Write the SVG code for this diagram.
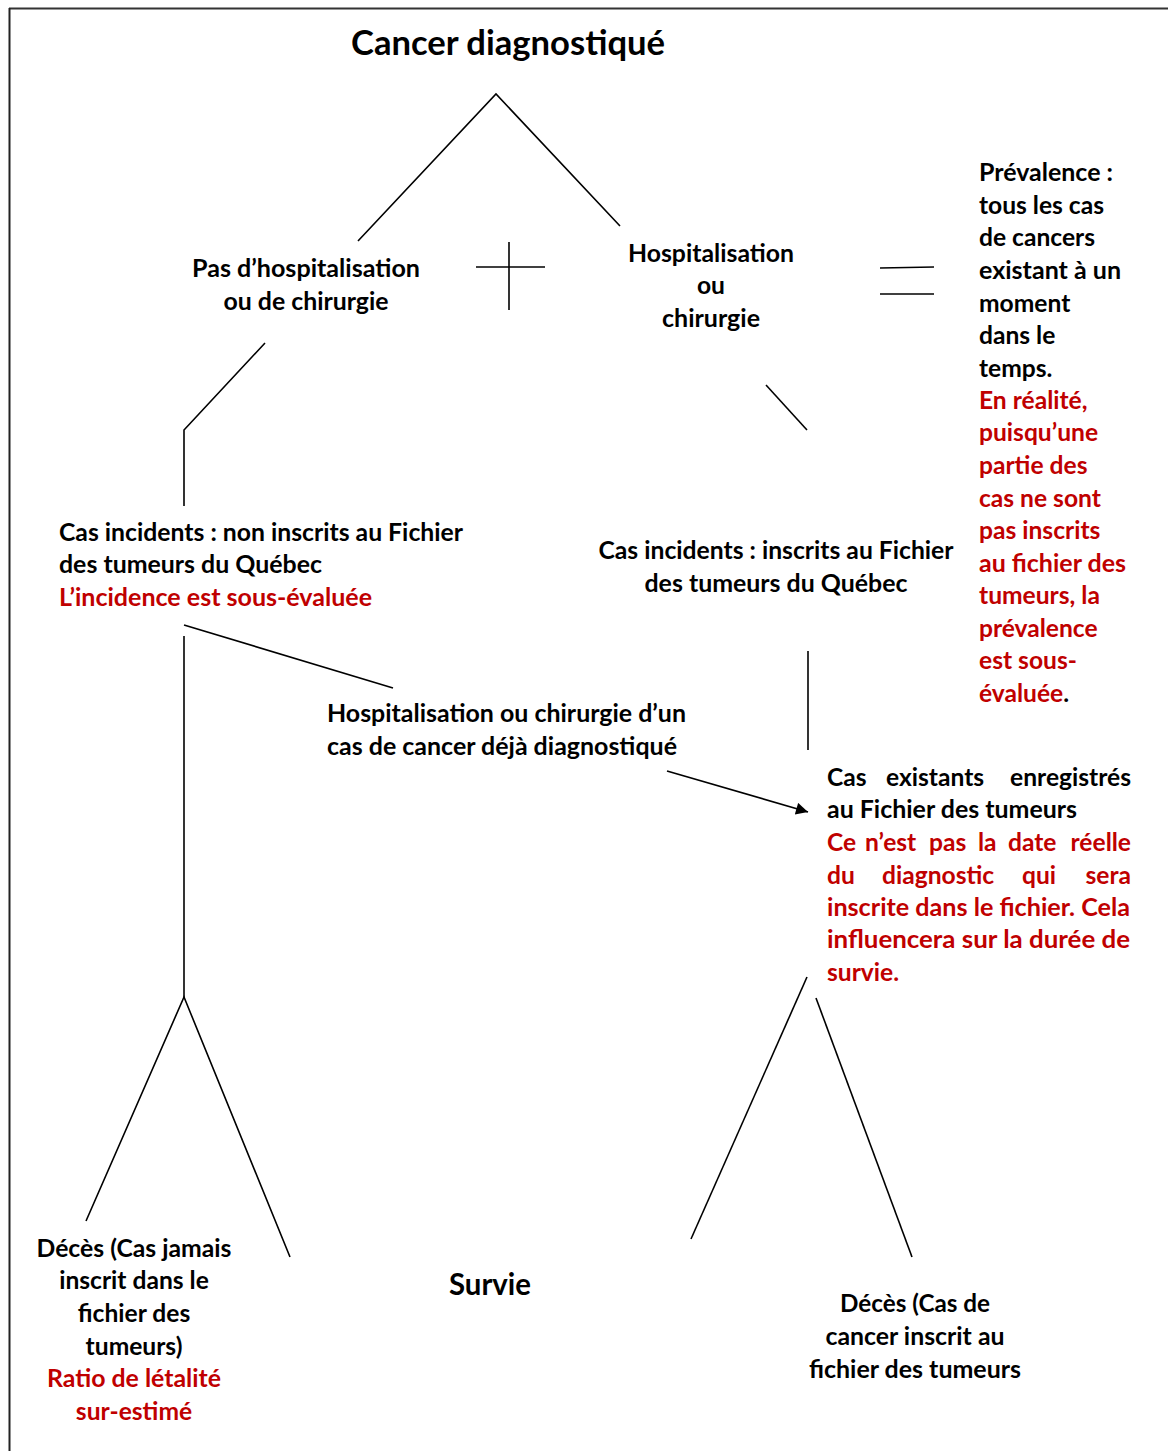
<svg xmlns="http://www.w3.org/2000/svg" width="1168" height="1451" viewBox="0 0 1168 1451">
<style>
  text { font-family: Lato, "Open Sans", "Liberation Sans", sans-serif; font-weight: bold; font-size: 24.6px; fill: #000; }
  .red { fill: #C00000; }
  .mid { text-anchor: middle; }
  .ln { stroke: #000; stroke-width: 1.6; fill: none; }
</style>
<defs>
  <marker id="arr" viewBox="0 0 10 10" refX="10" refY="5" markerWidth="14" markerHeight="12" markerUnits="userSpaceOnUse" orient="auto">
    <path d="M0,0 L10,5 L0,10 z" fill="#000"/>
  </marker>
</defs>
<rect width="1168" height="1451" fill="#fff"/>
<g id="frame">
  <line x1="9" y1="8.5" x2="1168" y2="8.5" stroke="#333" stroke-width="2.2"/>
  <line x1="9.5" y1="8" x2="9.5" y2="1451" stroke="#222" stroke-width="2"/>
</g>
<g id="connectors">
  <polyline class="ln" points="358,241 496,94 620,226"/>
  <line class="ln" x1="476" y1="267" x2="545" y2="267"/>
  <line class="ln" x1="509" y1="242" x2="509" y2="310"/>
  <line class="ln" x1="880" y1="268" x2="934" y2="267"/>
  <line class="ln" x1="880" y1="294" x2="934" y2="294"/>
  <polyline class="ln" points="265,343 184,430 184,506"/>
  <line class="ln" x1="766" y1="385" x2="807" y2="430"/>
  <line class="ln" x1="184" y1="625" x2="393" y2="688"/>
  <line class="ln" x1="184" y1="636" x2="184" y2="997"/>
  <line class="ln" x1="808" y1="651" x2="808" y2="750"/>
  <line class="ln" x1="667" y1="771" x2="808" y2="812" marker-end="url(#arr)"/>
  <polyline class="ln" points="86,1221 184,997 290,1257"/>
  <line class="ln" x1="807" y1="977" x2="691" y2="1239"/>
  <line class="ln" x1="816" y1="998" x2="912" y2="1257"/>
</g>
<g id="title">
  <text class="mid" x="508" y="55" style="font-size:34.5px" textLength="314" lengthAdjust="spacingAndGlyphs">Cancer diagnostiqué</text>
</g>
<g id="pas-hosp">
  <text class="mid" x="306" y="277" textLength="228" lengthAdjust="spacingAndGlyphs">Pas d’hospitalisation</text>
  <text class="mid" x="306" y="310" textLength="165" lengthAdjust="spacingAndGlyphs">ou de chirurgie</text>
</g>
<g id="hosp">
  <text class="mid" x="711" y="262" textLength="166" lengthAdjust="spacingAndGlyphs">Hospitalisation</text>
  <text class="mid" x="711" y="294">ou</text>
  <text class="mid" x="711" y="327" textLength="98" lengthAdjust="spacingAndGlyphs">chirurgie</text>
</g>
<g id="prevalence">
  <text x="979" y="181" textLength="134" lengthAdjust="spacingAndGlyphs">Prévalence :</text>
  <text x="979" y="214">tous les cas</text>
  <text x="979" y="246">de cancers</text>
  <text x="979" y="279" textLength="142" lengthAdjust="spacingAndGlyphs">existant à un</text>
  <text x="979" y="312">moment</text>
  <text x="979" y="344">dans le</text>
  <text x="979" y="377">temps.</text>
  <text class="red" x="979" y="409">En réalité,</text>
  <text class="red" x="979" y="441">puisqu’une</text>
  <text class="red" x="979" y="474">partie des</text>
  <text class="red" x="979" y="507">cas ne sont</text>
  <text class="red" x="979" y="539">pas inscrits</text>
  <text class="red" x="979" y="572" textLength="147" lengthAdjust="spacingAndGlyphs">au fichier des</text>
  <text class="red" x="979" y="604">tumeurs, la</text>
  <text class="red" x="979" y="637">prévalence</text>
  <text class="red" x="979" y="669">est sous-</text>
  <text x="979" y="702"><tspan class="red">évaluée</tspan>.</text>
</g>
<g id="incidents-non">
  <text x="59" y="541" textLength="404" lengthAdjust="spacingAndGlyphs">Cas incidents : non inscrits au Fichier</text>
  <text x="59" y="573" textLength="263" lengthAdjust="spacingAndGlyphs">des tumeurs du Québec</text>
  <text class="red" x="59" y="606" textLength="313" lengthAdjust="spacingAndGlyphs">L’incidence est sous-évaluée</text>
</g>
<g id="incidents-inscrits">
  <text class="mid" x="776" y="559" textLength="355" lengthAdjust="spacingAndGlyphs">Cas incidents : inscrits au Fichier</text>
  <text class="mid" x="776" y="592" textLength="263" lengthAdjust="spacingAndGlyphs">des tumeurs du Québec</text>
</g>
<g id="hosp-deja">
  <text x="327" y="722" textLength="359" lengthAdjust="spacingAndGlyphs">Hospitalisation ou chirurgie d’un</text>
  <text x="327" y="755" textLength="350" lengthAdjust="spacingAndGlyphs">cas de cancer déjà diagnostiqué</text>
</g>
<g id="existants">
  <text y="786"><tspan x="827">Cas</tspan><tspan x="886">existants</tspan><tspan x="1131" text-anchor="end">enregistrés</tspan></text>
  <text x="827" y="818" textLength="250" lengthAdjust="spacingAndGlyphs">au Fichier des tumeurs</text>
  <text class="red" y="851"><tspan x="827">Ce</tspan><tspan x="865">n’est</tspan><tspan x="929">pas</tspan><tspan x="978">la</tspan><tspan x="1008">date</tspan><tspan x="1131" text-anchor="end">réelle</tspan></text>
  <text class="red" y="884"><tspan x="827">du</tspan><tspan x="882">diagnostic</tspan><tspan x="1022">qui</tspan><tspan x="1131" text-anchor="end">sera</tspan></text>
  <text class="red" x="827" y="916" textLength="303" lengthAdjust="spacingAndGlyphs">inscrite dans le fichier. Cela</text>
  <text class="red" x="827" y="948" textLength="303" lengthAdjust="spacingAndGlyphs">influencera sur la durée de</text>
  <text class="red" x="827" y="981">survie.</text>
</g>
<g id="deces-jamais">
  <text class="mid" x="134" y="1257" textLength="195" lengthAdjust="spacingAndGlyphs">Décès (Cas jamais</text>
  <text class="mid" x="134" y="1289">inscrit dans le</text>
  <text class="mid" x="134" y="1322">fichier des</text>
  <text class="mid" x="134" y="1355">tumeurs)</text>
  <text class="mid red" x="134" y="1387" textLength="174" lengthAdjust="spacingAndGlyphs">Ratio de létalité</text>
  <text class="mid red" x="134" y="1420">sur-estimé</text>
</g>
<g id="survie">
  <text class="mid" x="490" y="1295" style="font-size:29.5px" textLength="82" lengthAdjust="spacingAndGlyphs">Survie</text>
</g>
<g id="deces-inscrit">
  <text class="mid" x="915" y="1312" textLength="150" lengthAdjust="spacingAndGlyphs">Décès (Cas de</text>
  <text class="mid" x="915" y="1345" textLength="179" lengthAdjust="spacingAndGlyphs">cancer inscrit au</text>
  <text class="mid" x="915" y="1378" textLength="212" lengthAdjust="spacingAndGlyphs">fichier des tumeurs</text>
</g>
</svg>
